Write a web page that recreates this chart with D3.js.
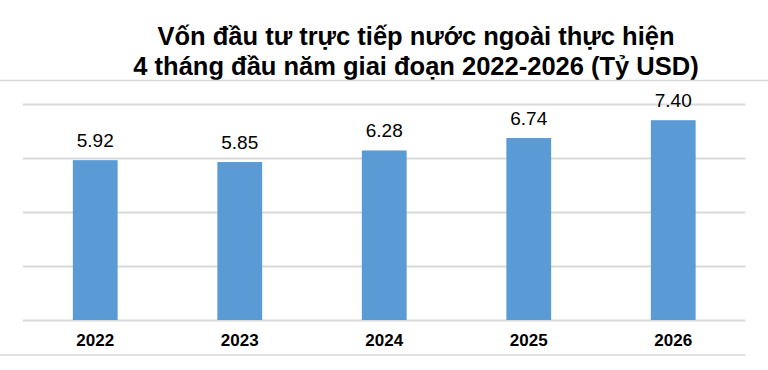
<!DOCTYPE html>
<html>
<head>
<meta charset="utf-8">
<script src="https://cdn.jsdelivr.net/npm/d3@7"></script>
<style>
  body { margin: 0; background: #fff; }
  text { font-family: "Liberation Sans", Arial, sans-serif; }
</style>
</head>
<body>
<div id="chart"></div>
<script>
// data
var years  = ["2022", "2023", "2024", "2025", "2026"];
var values = [5.92, 5.85, 6.28, 6.74, 7.40];
var yTicks = [0, 2, 4, 6, 8];
var titleLines = [
  "Vốn đầu tư trực tiếp nước ngoài thực hiện",
  "4 tháng đầu năm giai đoạn 2022-2026 (Tỷ USD)"
];

function draw() {
  var W = 768, H = 370,
      barColor  = "#5b9bd5",
      gridColor = "#d9d9d9";

  var svg = d3.select("#chart").append("svg")
      .attr("width", W)
      .attr("height", H);

  // plot area
  var plot = {left: 23, right: 745.5, top: 104, bottom: 320};

  var x = d3.scaleBand()
      .domain(years)
      .range([plot.left, plot.right])
      .paddingInner(0.69)
      .paddingOuter(0.345);

  var y = d3.scaleLinear()
      .domain([0, 8])
      .range([plot.bottom, plot.top]);

  // title
  svg.append("g").selectAll("text")
      .data(titleLines)
    .enter().append("text")
      .attr("x", 416)
      .attr("y", function(d, i) { return 45 + i * 29.5; })
      .attr("text-anchor", "middle")
      .style("font-size", "25.5px")
      .style("font-weight", "bold")
      .style("fill", "#000")
      .text(function(d) { return d; });

  // frame lines above and below the plot
  svg.append("line")
      .attr("x1", 0).attr("x2", W)
      .attr("y1", 80.5).attr("y2", 80.5)
      .attr("stroke", gridColor).attr("stroke-width", 1.5);

  svg.append("line")
      .attr("x1", 0).attr("x2", plot.right)
      .attr("y1", 355).attr("y2", 355)
      .attr("stroke", gridColor).attr("stroke-width", 1.5);

  // gridlines
  var yAxis = svg.append("g")
      .attr("transform", "translate(" + plot.left + ",0)")
      .call(d3.axisLeft(y).tickValues(yTicks).tickSize(-(plot.right - plot.left)).tickFormat(""));
  yAxis.select(".domain").remove();
  yAxis.selectAll(".tick line")
      .attr("stroke", gridColor)
      .attr("stroke-width", 2);

  // bars
  svg.append("g").selectAll("rect")
      .data(values)
    .enter().append("rect")
      .attr("x", function(d, i) { return x(years[i]); })
      .attr("y", function(d) { return y(d); })
      .attr("width", x.bandwidth())
      .attr("height", function(d) { return y(0) - y(d); })
      .attr("fill", barColor);

  // value labels
  svg.append("g").selectAll("text")
      .data(values)
    .enter().append("text")
      .attr("x", function(d, i) { return x(years[i]) + x.bandwidth() / 2; })
      .attr("y", function(d) { return y(d) - 13; })
      .attr("text-anchor", "middle")
      .style("font-size", "19px")
      .style("fill", "#000")
      .text(function(d) { return d.toFixed(2); });

  // category axis
  var xAxis = svg.append("g")
      .attr("transform", "translate(0," + plot.bottom + ")")
      .call(d3.axisBottom(x).tickSize(0).tickPadding(14));
  xAxis.select(".domain").remove();
  xAxis.selectAll("text")
      .style("font-family", "'Liberation Sans', Arial, sans-serif")
      .style("font-size", "17px")
      .style("font-weight", "bold")
      .style("fill", "#000");
}

draw();
</script>
</body>
</html>
